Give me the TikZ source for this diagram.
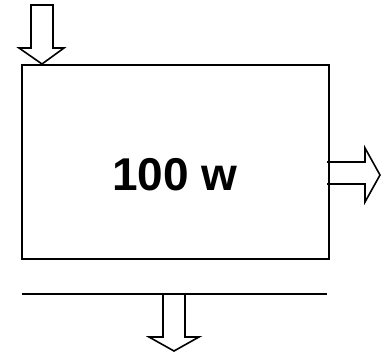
\documentclass[tikz,border=0pt]{standalone}
\usepackage{fontspec}
\setmainfont{Liberation Sans}
\begin{document}
\begin{tikzpicture}[x=1pt,y=-1pt,
  boxline/.style={draw=black,line width=2.2pt},
  hollowarrow/.style={draw=black,line width=1.6pt,fill=white,line join=miter}]
\useasboundingbox (0,0) rectangle (384,354);
% top arrow
\draw[hollowarrow] (31,5) -- (53,5) -- (53,48) -- (64,48) -- (42,64) -- (19,48) -- (31,48) -- cycle;
% right arrow
\draw[hollowarrow] (327,162) -- (365,162) -- (365,148) -- (380,175) -- (365,202) -- (365,184) -- (327,184);
% bottom arrow
\draw[hollowarrow] (163,294) -- (163,337) -- (149,337) -- (174,351) -- (199,337) -- (185,337) -- (185,294);
% box
\node[boxline,minimum width=307pt,minimum height=194pt,inner sep=0pt,anchor=north west] (box) at (21,64) {};
\node[font=\fontsize{46}{54}\selectfont\bfseries,inner sep=0pt] (label) at (175,175) {100 w};
% bottom line
\coordinate (l1) at (22,294);
\coordinate (l2) at (327,294);
\draw[boxline] (l1) -- (l2);
\end{tikzpicture}
\end{document}
